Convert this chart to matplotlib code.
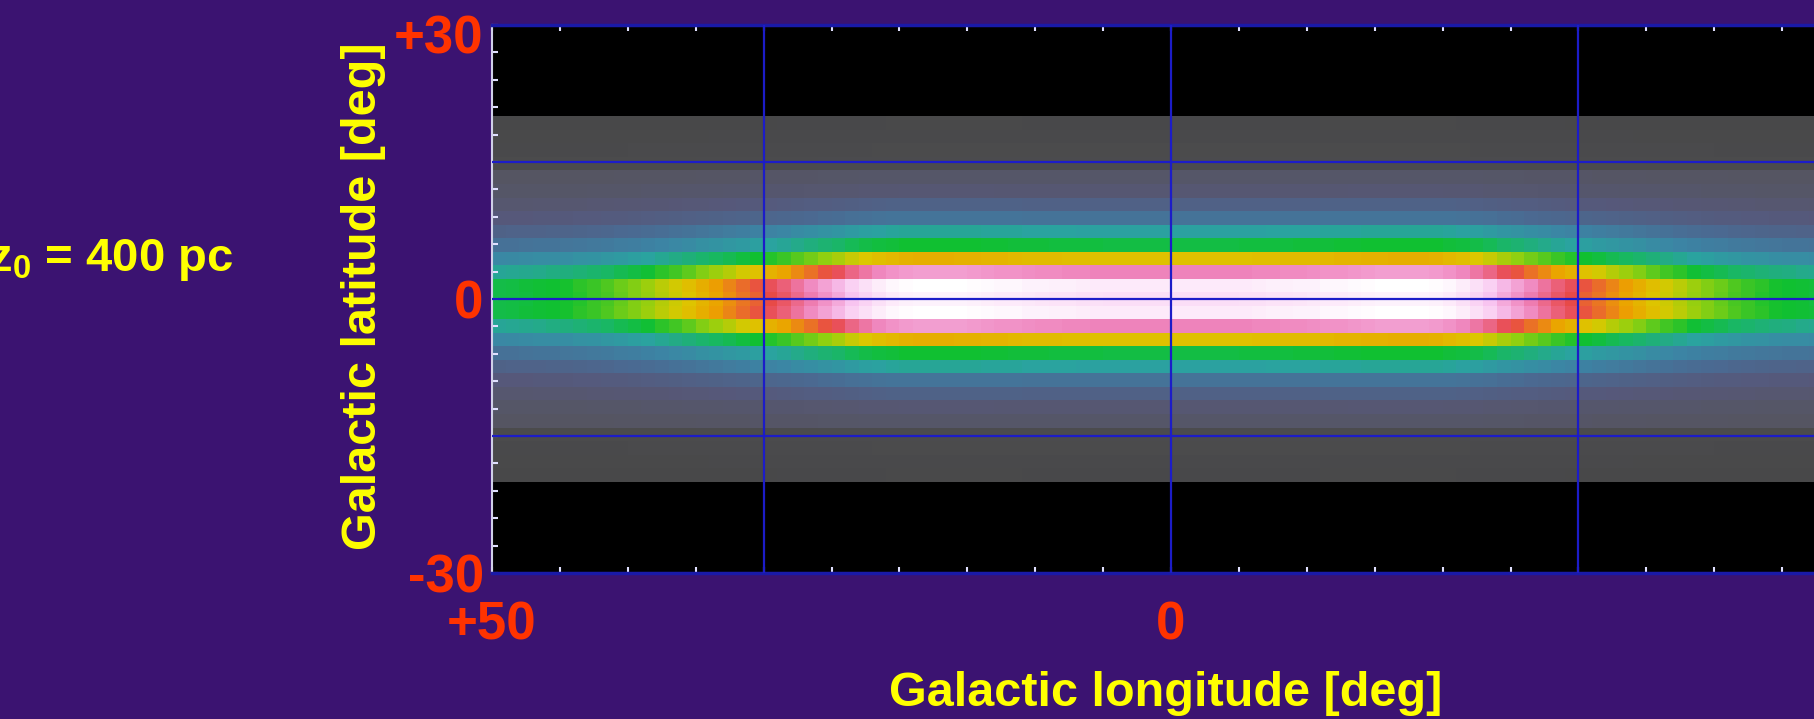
import numpy as np
import matplotlib
matplotlib.use("Agg")
import matplotlib.pyplot as plt
import matplotlib.transforms as mtransforms
from matplotlib.colors import LinearSegmentedColormap
from matplotlib.ticker import MultipleLocator

plt.rcParams['font.family'] = ['Liberation Sans', 'DejaVu Sans']
plt.rcParams['mathtext.fontset'] = 'custom'
plt.rcParams['mathtext.rm'] = 'Liberation Sans:bold'
plt.rcParams['mathtext.bf'] = 'Liberation Sans:bold'
plt.rcParams['mathtext.it'] = 'Liberation Sans:bold'

# ---------------- data ----------------
# latitude rows (|row| = 0..13), each row is 40/27 deg tall, data only within |b| <= 20
row_edge_level = [0.51, 0.51, 0.44, 0.37, 0.31, 0.26, 0.22, 0.19, 0.165, 0.15,
                  0.075, 0.065, 0.055, 0.045]          # colour level at |l| = 50
row_peak_level = [0.98, 1.00, 0.87, 0.68, 0.53, 0.44, 0.32, 0.26, 0.20, 0.17,
                  0.085, 0.075, 0.065, 0.055]          # colour level at brightest longitude
# longitude shape for |l| = 0.5, 1.5, ..., 49.5 deg (0 = edge level, 1 = peak level)
lon_shape = [0.93, 0.93, 0.93, 0.93, 0.93, 0.935, 0.94, 0.945, 0.95, 0.955,
             0.96, 0.97, 0.975, 0.98, 0.99, 0.995, 1.0, 1.0, 1.0, 0.99,
             0.97, 0.94, 0.90, 0.85, 0.79, 0.74, 0.69, 0.64, 0.59, 0.55,
             0.51, 0.47, 0.43, 0.39, 0.35, 0.31, 0.27, 0.24, 0.20, 0.17,
             0.14, 0.11, 0.09, 0.07, 0.05, 0.04, 0.03, 0.02, 0.01, 0.0]

x_tick_vals = [50, 0, -50]
x_tick_labels = ['+50', '0', '-50']
y_tick_vals = [30, 0, -30]
y_tick_labels = ['+30', '0', '-30']
grid_l = [30, 0, -30]
grid_b = [15, 0, -15]

# ---------------- colour map ----------------
cmap_nodes = [
    (0.00, '#444444'), (0.08, '#4b4b4d'), (0.15, '#555562'), (0.22, '#56587a'),
    (0.29, '#4a6a92'), (0.36, '#3c84a4'), (0.43, '#2aa2a0'), (0.49, '#18b860'),
    (0.53, '#10c030'), (0.60, '#90d010'), (0.65, '#dcc800'), (0.70, '#eca000'),
    (0.77, '#e84848'), (0.84, '#ee80b8'), (0.91, '#f8c4f0'), (1.00, '#ffffff')]
cmap = LinearSegmentedColormap.from_list('disk', cmap_nodes)

# ---------------- grid of cells ----------------
edge = np.array(row_edge_level)
peak = np.array(row_peak_level)
shape = np.array(lon_shape)
rows_full_edge = np.concatenate([edge[:0:-1], edge])     # rows -13..13
rows_full_peak = np.concatenate([peak[:0:-1], peak])
shape_full = np.concatenate([shape[::-1], shape])        # l from -50 to 50
levels = rows_full_edge[:, None] + (rows_full_peak - rows_full_edge)[:, None] * shape_full[None, :]

nrow = len(rows_full_edge)
b_edges = np.linspace(-20, 20, nrow + 1)
l_edges = np.linspace(-50, 50, len(shape_full) + 1)

# ---------------- figure ----------------
W, H = 1814, 719
fig = plt.figure(figsize=(W / 100, H / 100), dpi=100, facecolor='#3b1371')

ax_left, ax_right, ax_top, ax_bot = 492, 1850, 25, 573
ax = fig.add_axes([ax_left / W, 1 - ax_bot / H, (ax_right - ax_left) / W, (ax_bot - ax_top) / H])
ax.set_facecolor('black')
ax.pcolormesh(l_edges, b_edges, levels, cmap=cmap, vmin=0, vmax=1, shading='flat', zorder=1)
ax.set_xlim(50, -50)
ax.set_ylim(-30, 30)

for g in grid_l:
    ax.axvline(g, color='#1c1cc8', lw=1.6, zorder=3)
for g in grid_b:
    ax.axhline(g, color='#1c1cc8', lw=1.6, zorder=3)

ax.set_xticks(x_tick_vals)
ax.set_xticklabels(x_tick_labels)
ax.set_yticks(y_tick_vals)
ax.set_yticklabels(y_tick_labels)
ax.xaxis.set_minor_locator(MultipleLocator(5))
ax.yaxis.set_minor_locator(MultipleLocator(3))
ax.tick_params(which='both', direction='in', color='#e0e0ff', length=4, width=1.5,
               top=True, right=True)
ax.tick_params(axis='x', which='major', pad=20, labelsize=38, labelcolor='#ff3300')
ax.tick_params(axis='y', which='major', pad=6, labelsize=38, labelcolor='#ff3300')
for lab in ax.get_xticklabels() + ax.get_yticklabels():
    lab.set_fontweight('bold')
# the top latitude label sits a little lower in the reference
top_lab = ax.get_yticklabels()[0]
top_lab.set_transform(top_lab.get_transform() +
                      mtransforms.ScaledTranslation(0, -9 / 100, fig.dpi_scale_trans))

for side in ['top', 'bottom', 'right']:
    ax.spines[side].set_color('#1a1aa8')
    ax.spines[side].set_linewidth(2.5)
ax.spines['left'].set_color('#d0d0e8')
ax.spines['left'].set_linewidth(1.5)

fig.text(364 / W, 1 - 296 / H, 'Galactic latitude [deg]', rotation=90, ha='center', va='center',
         color='#ffff00', fontsize=35, fontweight='bold')
fig.text(1166 / W, 1 - 694 / H, 'Galactic longitude [deg]', ha='center', va='center',
         color='#ffff00', fontsize=35, fontweight='bold')
fig.text(-12 / W, 1 - 271 / H, r'z$_{0}$ = 400 pc', ha='left', va='baseline',
         color='#ffff00', fontsize=34, fontweight='bold')

fig.savefig('out.png', dpi=100, facecolor=fig.get_facecolor())
